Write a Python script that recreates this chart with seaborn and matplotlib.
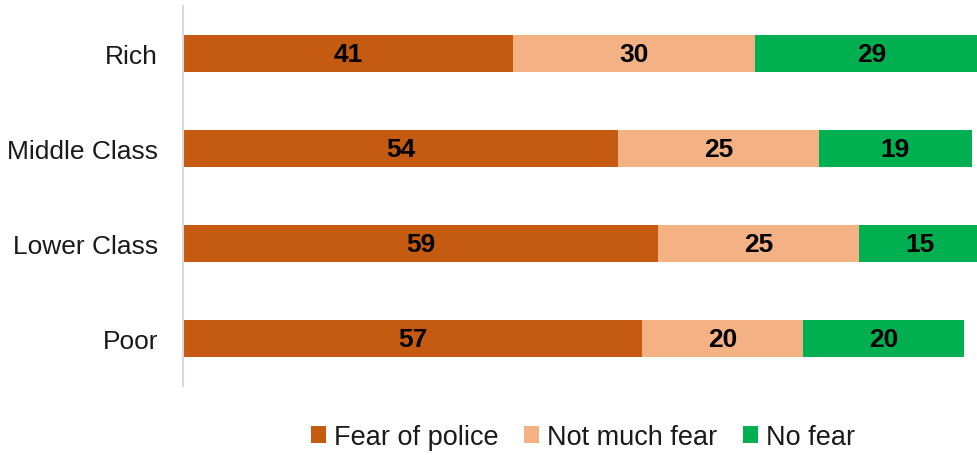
import matplotlib
matplotlib.use("Agg")
import matplotlib.pyplot as plt
import seaborn as sns
import pandas as pd
from matplotlib.patches import Patch

categories = ["Rich", "Middle Class", "Lower Class", "Poor"]
fear_of_police = [41, 54, 59, 57]
not_much_fear = [30, 25, 25, 20]
no_fear = [29, 19, 15, 20]
series_names = ["Fear of police", "Not much fear", "No fear"]
colors = ["#C55A11", "#F4B183", "#00B050"]

sns.set_style("white")
plt.rcParams["font.family"] = ["Liberation Sans", "DejaVu Sans"]

df = pd.DataFrame({
    "cat": categories,
    "s1": fear_of_police,
    "s2": not_much_fear,
    "s3": no_fear,
})
df["c1"] = df["s1"]
df["c2"] = df["s1"] + df["s2"]
df["c3"] = df["c2"] + df["s3"]

fig = plt.figure(figsize=(9.78, 4.56), dpi=100)
ax = fig.add_axes([183 / 978, (456 - 387) / 456, 805 / 978, 380 / 456])

bw = 0.39
for col, color in zip(["c3", "c2", "c1"], [colors[2], colors[1], colors[0]]):
    sns.barplot(data=df, y="cat", x=col, color=color, orient="h", width=bw,
                ax=ax, saturation=1, order=categories, linewidth=0)

ax.set_xlim(0, 100)
ax.set_ylim(3.5, -0.5)
ax.set_xlabel("")
ax.set_ylabel("")
ax.set_xticks([])

for i, row in df.iterrows():
    starts = [0, row["c1"], row["c2"]]
    vals = [row["s1"], row["s2"], row["s3"]]
    for s, v in zip(starts, vals):
        ax.text(s + v / 2, i + 0.01, f"{v:g}", ha="center", va="center",
                fontsize=19, fontweight="bold", color="black")

for side in ["top", "right", "bottom"]:
    ax.spines[side].set_visible(False)
ax.spines["left"].set_color("#D9D9D9")
ax.spines["left"].set_linewidth(1.5)
ax.tick_params(axis="y", length=0, pad=18, labelsize=19, labelcolor="#1a1a1a")

handles = [Patch(facecolor=c, edgecolor="none") for c in colors]
fig.legend(handles, series_names, loc="center", bbox_to_anchor=(583 / 978, 1 - 438 / 456),
           ncol=3, frameon=False, fontsize=19.5, handlelength=0.55, handleheight=0.55,
           handletextpad=0.3, columnspacing=0.95, labelcolor="#1a1a1a")

fig.savefig("out.png", dpi=100)
